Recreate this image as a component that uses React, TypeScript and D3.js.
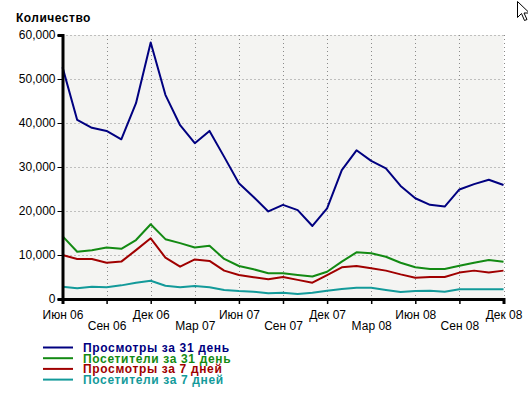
import { useEffect, useRef } from 'react';
import * as d3 from 'd3';

// monthly points, Jun 06 .. Dec 08
const months = d3.range(31);

const tickLabels = [
  'Июн 06', 'Сен 06', 'Дек 06', 'Мар 07', 'Июн 07', 'Сен 07',
  'Дек 07', 'Мар 08', 'Июн 08', 'Сен 08', 'Дек 08',
];

const views31 = [
  52700, 40700, 38900, 38200, 36300, 44500, 58300, 46400, 39500, 35400,
  38200, 32300, 26300, 23200, 19900, 21400, 20200, 16600, 20600, 29300,
  33800, 31400, 29700, 25700, 22900, 21400, 21000, 24900, 26100, 27100, 25900,
];
const visitors31 = [
  14300, 10750, 11100, 11700, 11400, 13400, 17000, 13600, 12700, 11700,
  12100, 9100, 7500, 6750, 5850, 5850, 5450, 5100, 6200, 8500,
  10600, 10400, 9600, 8250, 7200, 6800, 6800, 7550, 8250, 8850, 8450,
];
const views7 = [
  10000, 9100, 9100, 8250, 8500, 11100, 13800, 9400, 7350, 9000,
  8650, 6450, 5450, 4950, 4500, 5000, 4350, 3700, 5450, 7200,
  7500, 7000, 6450, 5600, 4850, 5000, 5000, 6000, 6450, 6000, 6450,
];
const visitors7 = [
  2800, 2450, 2800, 2650, 3100, 3700, 4150, 3000, 2650, 2950,
  2650, 2050, 1800, 1650, 1300, 1420, 1150, 1420, 1900, 2250,
  2550, 2550, 2050, 1600, 1800, 1900, 1650, 2200, 2200, 2200, 2200,
];

const seriesNames = [
  'Просмотры за 31 день',
  'Посетители за 31 день',
  'Просмотры за 7 дней',
  'Посетители за 7 дней',
];
const seriesColors = ['#000080', '#138a13', '#a00000', '#139a9a'];
const seriesValues = [views31, visitors31, views7, visitors7];

const yTicks = [0, 10000, 20000, 30000, 40000, 50000, 60000];

export default function App() {
  const ref = useRef<SVGSVGElement>(null);

  useEffect(() => {
    if (!ref.current) return;
    const svg = d3.select(ref.current);
    svg.selectAll('*').remove();

    const font = '"Liberation Sans", Arial, sans-serif';
    const x = d3.scaleLinear().domain([0, 30]).range([62.5, 503.5]);
    const y = d3.scaleLinear().domain([0, 60000]).range([299, 35]);

    svg.append('rect')
      .attr('x', x(0)).attr('y', y(60000))
      .attr('width', x(30) - x(0)).attr('height', y(0) - y(60000))
      .attr('fill', '#f4f4f2');

    // grid
    const grid = svg.append('g')
      .attr('stroke', '#8a8a8a')
      .attr('stroke-width', 1)
      .attr('stroke-dasharray', '1,3');
    yTicks.slice(1).forEach(v => {
      grid.append('line')
        .attr('x1', x(0)).attr('x2', x(30))
        .attr('y1', Math.round(y(v)) + 0.5).attr('y2', Math.round(y(v)) + 0.5);
    });
    d3.range(3, 31, 3).forEach(m => {
      grid.append('line')
        .attr('x1', Math.round(x(m)) + 0.5).attr('x2', Math.round(x(m)) + 0.5)
        .attr('y1', y(60000)).attr('y2', y(0));
    });

    // lines
    const line = d3.line<number>()
      .x((_, i) => x(months[i]))
      .y(d => y(d));
    seriesValues.forEach((vals, i) => {
      svg.append('path')
        .datum(vals)
        .attr('fill', 'none')
        .attr('stroke', seriesColors[i])
        .attr('stroke-width', 2)
        .attr('stroke-linejoin', 'round')
        .attr('d', line);
    });

    // y axis
    const yAxis = svg.append('g')
      .attr('transform', `translate(${x(0)},0)`)
      .call(d3.axisLeft(y).tickValues(yTicks).tickFormat(d3.format(',')).tickSize(5).tickPadding(2));
    yAxis.select('.domain').attr('stroke', '#000').attr('stroke-width', 3);
    yAxis.selectAll('.tick line').attr('stroke', '#000');
    yAxis.selectAll('text')
      .style('font-family', font).style('font-size', '12px').attr('fill', '#000');

    // x axis, labels staggered in two rows
    const xAxis = svg.append('g')
      .attr('transform', `translate(0,${y(0)})`)
      .call(d3.axisBottom(x).tickValues(d3.range(0, 31, 3))
        .tickFormat((_, i) => tickLabels[i]).tickSize(5).tickPadding(3));
    xAxis.select('.domain').attr('stroke', '#000').attr('stroke-width', 3);
    xAxis.selectAll('.tick line').attr('stroke', '#000').attr('stroke-width', 1.5);
    xAxis.selectAll('text')
      .style('font-family', font).style('font-size', '12px').attr('fill', '#000')
      .attr('dy', (_, i) => (i % 2 === 0 ? '1em' : '1.92em'));

    // title
    svg.append('text')
      .attr('x', 16).attr('y', 21.5)
      .style('font-family', font).style('font-size', '12px').style('font-weight', 'bold')
      .style('letter-spacing', '0.5px')
      .text('Количество');

    // legend
    const legend = svg.append('g');
    seriesNames.forEach((name, i) => {
      const ly = 347.5 + i * 10.7;
      legend.append('line')
        .attr('x1', 43).attr('x2', 73).attr('y1', ly).attr('y2', ly)
        .attr('stroke', seriesColors[i]).attr('stroke-width', 2);
      legend.append('text')
        .attr('x', 83).attr('y', ly + 4.3)
        .attr('fill', seriesColors[i])
        .style('font-family', font).style('font-size', '12px').style('font-weight', 'bold')
        .style('letter-spacing', '0.65px')
        .text(name);
    });

    // mouse pointer captured in the screenshot
    svg.append('path')
      .attr('d', 'M517.5,1.5 v16 l4,-4 l3,7 l2.5,-1 l-3,-6.5 h5.5 z')
      .attr('fill', '#fff').attr('stroke', '#000').attr('stroke-width', 1);
  }, []);

  return (
    <svg ref={ref} width={528} height={394}
      style={{ position: 'absolute', left: 0, top: 0, background: '#fff' }} />
  );
}
